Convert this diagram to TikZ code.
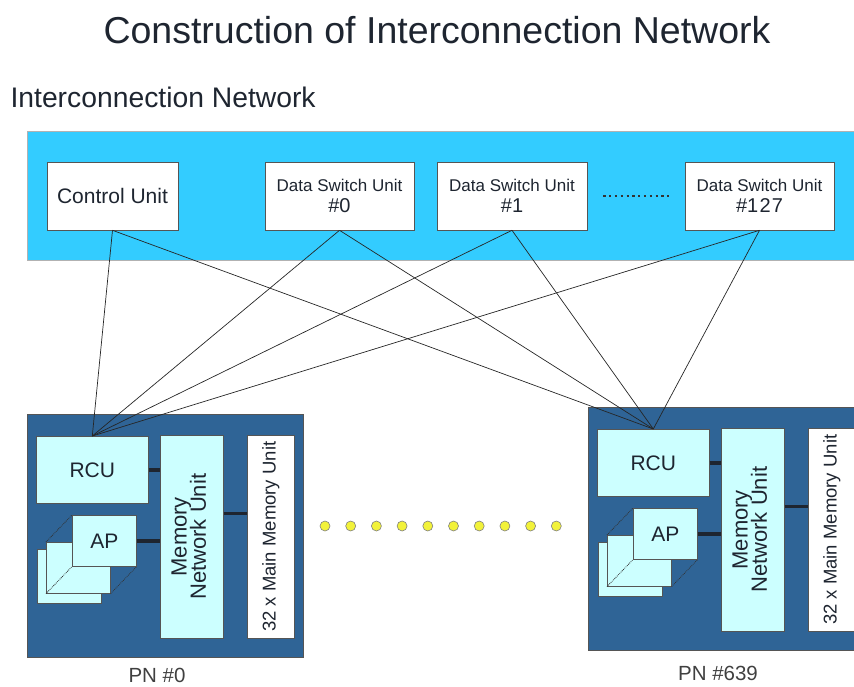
\documentclass[tikz,border=0pt]{standalone}
\usepackage{fontspec}
\usepackage{graphicx}
\setmainfont{Liberation Sans}
\definecolor{netcyan}{HTML}{33CCFF}
\definecolor{pnblue}{HTML}{2F6496}
\definecolor{unitcyan}{HTML}{CCFFFF}
\definecolor{edgegray}{HTML}{555555}
\definecolor{dotyellow}{HTML}{F2F23A}
\definecolor{inkdark}{HTML}{1E2530}
\tikzset{
  unitbox/.style={draw=edgegray, line width=0.6pt, fill=white, inner sep=0pt, align=center,
    text=inkdark, font=\fontsize{17}{21}\selectfont},
  pnunit/.style={draw=edgegray, line width=0.6pt, fill=unitcyan, inner sep=0pt, align=center,
    text=inkdark, font=\fontsize{21}{24}\selectfont},
  link/.style={draw=black!85, line width=0.7pt},
  bus/.style={draw=inkdark, line width=3.4pt},
  hidden/.style={draw=black!80, line width=0.8pt, densely dotted},
}
\begin{document}
\begin{tikzpicture}[x=1pt,y=-1pt]
\useasboundingbox (0,0) rectangle (854,687);
\clip (0,0) rectangle (854,687);

% headings
\node[font=\fontsize{37.5}{42}\selectfont, text=inkdark] (title) at (437,30) {Construction of Interconnection Network};
\node[font=\fontsize{28.3}{32}\selectfont, text=inkdark, anchor=west] (nethead) at (7,97) {Interconnection Network};

% interconnection network band
\node[draw=gray!60, line width=0.6pt, fill=netcyan, minimum width=840pt, minimum height=129pt,
  inner sep=0pt, anchor=north west] (net) at (27,131) {};

\node[unitbox, minimum width=131pt, minimum height=68pt, font=\fontsize{21}{24}\selectfont] (cu) at (112.5,196) {Control Unit};
\node[unitbox, minimum width=149pt, minimum height=68pt] (d0) at (339.5,196) {Data Switch Unit\\{\fontsize{20}{22}\selectfont\#0}};
\node[unitbox, minimum width=150pt, minimum height=68pt] (d1) at (512,196) {Data Switch Unit\\{\fontsize{20}{22}\selectfont\#1}};
\node[unitbox, minimum width=149pt, minimum height=68pt] (d127) at (759.5,196) {Data Switch Unit\\{\fontsize{20}{22}\selectfont\#1\kern1.2pt2\kern1.2pt7}};
\draw[black!80, line width=1.6pt, dash pattern=on 2.2pt off 3.6pt] (d1.east) ++(16,0) coordinate (dsA) -- ([xshift=-15pt]d127.west) coordinate (dsB);

% processor nodes
\foreach \n/\ox/\oy/\ly/\lbl in {a/27/414/261/{PN \#0}, b/588/407/266/{PN \#639}}{
  \begin{scope}[shift={(\ox,\oy)}]
    \node[draw=edgegray, line width=0.6pt, fill=pnblue, minimum width=276pt, minimum height=243pt,
      inner sep=0pt, anchor=north west] (pn\n) at (0,0) {};
    \node[pnunit, minimum width=112pt, minimum height=67pt, anchor=north west] (rcu\n) at (9,22) {RCU};
    \node[pnunit, minimum width=63pt, minimum height=203pt, anchor=north west,
      font=\fontsize{22}{21}\selectfont] (mnu\n) at (133,21)
      {\rotatebox{90}{\begin{tabular}{@{}c@{}}Memory\\[-3pt]Network Unit\end{tabular}}};
    \node[unitbox, minimum width=47pt, minimum height=203pt, anchor=north west,
      font=\fontsize{18.5}{22}\selectfont] (mm\n) at (220,21) {\rotatebox{90}{32 x Main Memory Unit}};
    % stacked arithmetic processors
    \node[pnunit, minimum width=64pt, minimum height=54pt, anchor=north west] (apc\n) at (10,135) {};
    \node[pnunit, minimum width=64pt, minimum height=51pt, anchor=north west] (apb\n) at (19,128) {};
    \node[pnunit, minimum width=64pt, minimum height=51pt, anchor=north west] (ap\n) at (45,101) {AP};
    \draw[hidden] (apb\n.north west) -- (ap\n.north west);
    \draw[hidden] (apb\n.south east) -- (ap\n.south east);
    \draw[hidden] (apb\n.south west) -- (ap\n.south west);
    % internal buses
    \draw[bus] (rcu\n.east) -- (rcu\n.east -| mnu\n.west);
    \draw[bus] (ap\n.east) -- (ap\n.east -| mnu\n.west);
    \draw[bus] (mnu\n.east |- 0,99.5) coordinate (mb\n) -- (mm\n.west |- mb\n);
    \node[font=\fontsize{20.5}{24}\selectfont, text=black!75] (lbl\n) at (130,\ly) {\lbl};
  \end{scope}
}

% links from the network units to the processor nodes
\foreach \u in {cu,d0,d1,d127}{
  \draw[link] (\u.south) -- (rcua.north);
  \draw[link] (\u.south) -- (rcub.north);
}

% further processor nodes
\foreach \k in {0,...,9}{
  \node[circle, fill=dotyellow, draw=gray, line width=0.6pt, minimum size=10pt, inner sep=0pt]
    (dot\k) at (325+25.7*\k,526) {};
}
\end{tikzpicture}
\end{document}
